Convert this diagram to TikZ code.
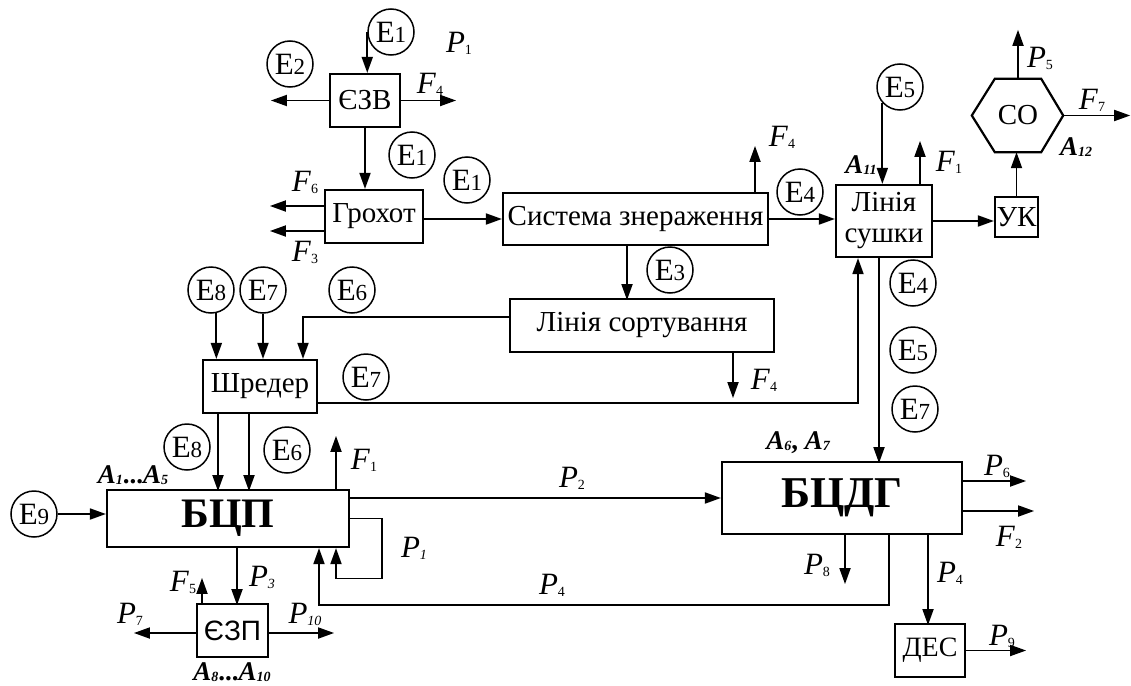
\documentclass[tikz,border=0pt]{standalone}
\usepackage{fontspec}
\setmainfont{Liberation Serif}
\newfontfamily\sansf{Liberation Sans}
\usetikzlibrary{arrows.meta,calc}
\newcommand\dg[1]{{\fontsize{23}{23}\selectfont #1}}
\newcommand\sbs[1]{\raisebox{-2pt}{\fontsize{14}{14}\selectfont #1}}
\newcommand\pl[2]{\textit{#1}\sbs{#2}}
\newcommand\asb[1]{\raisebox{-1pt}{\fontsize{14}{14}\selectfont\bfseries\itshape #1}}
\newcommand\Alab[1]{\textbf{\textit{A}}\asb{#1}}
\tikzset{
  box/.style={draw, line width=2.2pt, inner sep=0pt, font=\fontsize{29}{31}\selectfont, align=center},
  ecirc/.style={draw, circle, line width=1.5pt, minimum size=46pt, inner sep=0pt, font=\fontsize{31}{31}\selectfont},
  arr/.style={line width=1.8pt, -{Triangle[length=16pt,width=11pt]}},
  lab/.style={inner sep=0pt, font=\fontsize{31}{31}\selectfont},
  alab/.style={inner sep=0pt, font=\fontsize{27}{27}\selectfont},
}
\begin{document}
\begin{tikzpicture}[x=1pt,y=-1pt]
\useasboundingbox (0,0) rectangle (1131,685);
% boxes
\node[box, minimum width=70pt, minimum height=53pt] (ezv) at (365,100.5) {ЄЗВ};
\node[box, minimum width=98pt, minimum height=53pt] (groh) at (374,216.5) {Грохот};
\node[box, minimum width=265pt, minimum height=52pt] (sys) at (635.5,219) {Система знераження};
\node[box, minimum width=264pt, minimum height=53pt] (sort) at (642,325.5) {Лінія сортування};
\node[box, minimum width=96pt, minimum height=72pt] (dry) at (884,221) {Лінія\\сушки};
\node[box, minimum width=43pt, minimum height=40pt] (uk) at (1016.5,217) {УК};
\node[inner sep=0pt, minimum width=46pt, minimum height=73pt, font=\fontsize{29}{29}\selectfont] (co) at (1018,115.5) {СО};
\draw[line width=2.2pt] (co.north west) -- (co.north east) -- ([xshift=22pt]co.east) -- (co.south east) -- (co.south west) -- ([xshift=-23pt]co.west) -- cycle;
\node[box, minimum width=114pt, minimum height=53pt] (shred) at (260,386.5) {Шредер};
\node[box, minimum width=242pt, minimum height=57pt, font=\fontsize{42}{42}\selectfont\bfseries] (bcp) at (228,518.5) {БЦП};
\node[box, minimum width=240pt, minimum height=72pt, font=\fontsize{44}{44}\selectfont\bfseries] (bcdg) at (842,498) {БЦДГ};
\node[box, minimum width=71pt, minimum height=53pt, font=\fontsize{28}{28}\sansf] (ezp) at (232.5,630.5) {ЄЗП};
\node[box, minimum width=70pt, minimum height=53pt, font=\fontsize{28}{28}\selectfont] (des) at (930,650.5) {ДЕС};
% circles
\node[ecirc] (E1a) at (391,32) {E\dg{1}};
\node[ecirc] (E2) at (290,64) {E\dg{2}};
\node[ecirc] (E1b) at (412,155) {E\dg{1}};
\node[ecirc] (E1c) at (467,180) {E\dg{1}};
\node[ecirc] (E4a) at (800,192) {E\dg{4}};
\node[ecirc] (E5a) at (900,87) {E\dg{5}};
\node[ecirc] (E3) at (670,270) {E\dg{3}};
\node[ecirc] (E8a) at (211,290) {E\dg{8}};
\node[ecirc] (E7a) at (263,290) {E\dg{7}};
\node[ecirc] (E6a) at (352,290) {E\dg{6}};
\node[ecirc] (E7b) at (366,377) {E\dg{7}};
\node[ecirc] (E4b) at (913,283) {E\dg{4}};
\node[ecirc] (E5b) at (913,350) {E\dg{5}};
\node[ecirc] (E7c) at (915,409) {E\dg{7}};
\node[ecirc] (E8b) at (187,447) {E\dg{8}};
\node[ecirc] (E6b) at (287,450) {E\dg{6}};
\node[ecirc] (E9) at (34,514) {E\dg{9}};
% connectors
\draw[arr] (E1a.west) -- (E1a.west |- ezv.north);
\draw[arr] (ezv.west) -- ++(-58,0);
\draw[arr] (ezv.east) -- ++(55,0);
\draw[arr] (ezv.south) -- (ezv.south |- groh.north);
\draw[arr] ([yshift=10.5pt]groh.west) -- ++(-54,0);
\draw[arr] ([yshift=-14.5pt]groh.west) -- ++(-54,0);
\draw[arr] (groh.east |- sys.west) -- (sys.west);
\draw[arr] ([xshift=119.5pt]sys.north) -- ++(0,-46);
\draw[arr] (sys.east) -- (sys.east -| dry.west);
\draw[arr] ([xshift=-8.5pt]sys.south) -- ++(0,54);
\draw[arr] ([yshift=8.5pt]sort.west) -| ([xshift=43pt]shred.north);
\draw[arr] ([xshift=91pt]sort.south) -- ++(0,45);
\draw[arr] (E8a.-77) -- (E8a.-77 |- shred.north);
\draw[arr] (E7a.south) -- (E7a.south |- shred.north);
\draw[arr] ([xshift=-42pt]shred.south) -- ++(0,77);
\draw[arr] ([xshift=-11pt]shred.south) -- ++(0,77);
\draw[arr] ([yshift=-16.5pt]shred.east) -| ([xshift=-26pt]dry.south);
\draw[arr] ([xshift=-5pt]dry.south) -- ++(0,205);
\draw[arr] (E5a.-138) -- (E5a.-138 |- dry.north);
\draw[arr] ([xshift=36pt]dry.north) -- ++(0,-43);
\draw[arr] (dry.east) -- (dry.east -| uk.west);
\draw[arr] (uk.north) -- (uk.north |- co.south);
\draw[arr] (co.north) -- ++(0,-49);
\draw[arr] ([xshift=22pt]co.east) -- ++(67,0);
\draw[arr] (E9.east) -- (E9.east -| bcp.west);
\draw[arr] (bcp.east |- bcdg.west) -- (bcdg.west);
\draw[arr] (bcp.east) -- ++(32,0) -- ++(0,60) -| ([xshift=108pt]bcp.south);
\draw[arr] ([xshift=108pt]bcp.north) -- ++(0,-53);
\draw[arr] ([xshift=47pt]bcdg.south) -- ++(0,70) -| ([xshift=91pt]bcp.south);
\draw[arr] ([xshift=9pt]bcp.south) -- ++(0,57);
\draw[arr] ([xshift=-30.5pt]ezp.north) -- ++(0,-25);
\draw[arr] ([yshift=-2.5pt]ezp.west) -- ++(-62,0);
\draw[arr] ([yshift=-2.5pt]ezp.east) -- ++(65,0);
\draw[arr] ([yshift=17pt]bcdg.east) -- ++(63,0);
\draw[arr] ([yshift=-13pt]bcdg.east) -- ++(71,0);
\draw[arr] ([xshift=3pt]bcdg.south) -- ++(0,49);
\draw[arr] ([xshift=86pt]bcdg.south) -- ++(0,90);
\draw[arr] (des.east) -- ++(60,0);
% labels
\node[lab] (lP1t) at (459,43) {\pl{P}{1}};
\node[lab] (lF4a) at (430,84) {\pl{F}{4}};
\node[lab] (lF6) at (305,182) {\pl{F}{6}};
\node[lab] (lF3) at (305,252) {\pl{F}{3}};
\node[lab] (lF4b) at (782,137) {\pl{F}{4}};
\node[alab] (lA11) at (861,165) {\Alab{11}};
\node[lab] (lF1a) at (949,162) {\pl{F}{1}};
\node[lab] (lP5) at (1040,58) {\pl{P}{5}};
\node[lab] (lF7) at (1092,100) {\pl{F}{7}};
\node[alab] (lA12) at (1076,147) {\Alab{12}};
\node[lab] (lF4c) at (764,380) {\pl{F}{4}};
\node[alab] (lA15) at (133,475) {\Alab{1}\textbf{...}\Alab{5}};
\node[lab] (lF1b) at (364,460) {\pl{F}{1}};
\node[lab] (lP2) at (572,478) {\pl{P}{2}};
\node[lab] (lP1) at (414,548) {\pl{P}{\itshape 1}};
\node[lab] (lP4a) at (552,585) {\pl{P}{4}};
\node[lab] (lP3) at (262,577) {\pl{P}{\itshape 3}};
\node[lab] (lF5) at (183,582) {\pl{F}{5}};
\node[lab] (lP7) at (130,614) {\pl{P}{7}};
\node[lab] (lP10) at (305,614) {\pl{P}{\itshape 10}};
\node[alab] (lA810) at (232,672) {\Alab{8}\textbf{...}\Alab{10}};
\node[alab] (lA67) at (798,443) {\Alab{6}\textbf{,} \Alab{7}};
\node[lab] (lP8) at (817,565) {\pl{P}{8}};
\node[lab] (lP6) at (997,466) {\pl{P}{6}};
\node[lab] (lF2) at (1009,537) {\pl{F}{2}};
\node[lab] (lP4b) at (950,573) {\pl{P}{4}};
\node[lab] (lP9) at (1002,636) {\pl{P}{9}};
\end{tikzpicture}
\end{document}
